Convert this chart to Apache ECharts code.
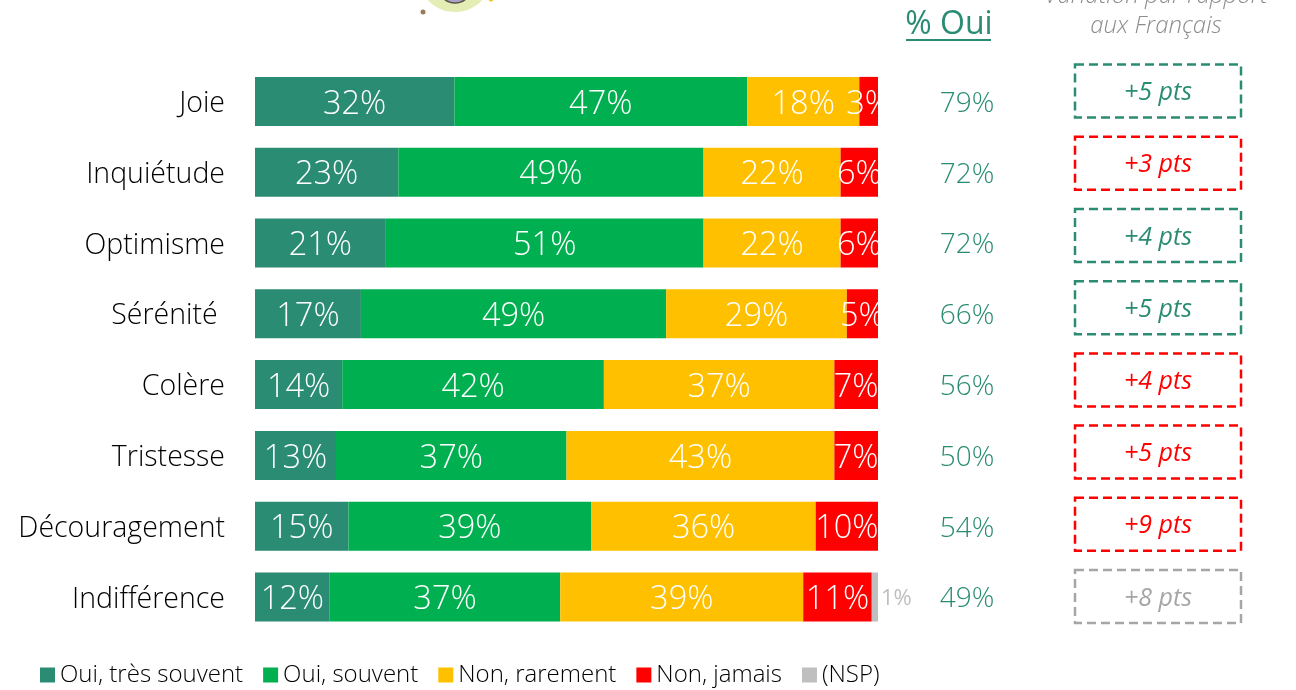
<!DOCTYPE html>
<html><head><meta charset="utf-8">
<style>html,body{margin:0;padding:0;background:#fff}#c{width:1296px;height:690px}</style>
<script src="https://cdn.jsdelivr.net/npm/echarts@6/dist/echarts.min.js"></script>
</head><body><div id="c"></div>
<script>
const categories = ["Joie","Inquiétude","Optimisme","Sérénité ","Colère","Tristesse","Découragement","Indifférence"];
const ouiTresSouvent = [32,23,21,17,14,13,15,12];
const ouiSouvent = [47,49,51,49,42,37,39,37];
const nonRarement = [18,22,22,29,37,43,36,39];
const nonJamais = [3,6,6,5,7,7,10,11];
const nsp = [null,null,null,null,null,null,null,1];
const totalOui = [79,72,72,66,56,50,54,49];
const variation = [5,3,4,5,4,5,9,8];
const varTone = ["green","red","green","green","red","red","red","grey"];

const FONT = '"Open Sans"';
const GREEN = '#2A8C72', TONES = {green:GREEN, red:'#FF0000', grey:'#A6A6A6'};

const pct = p => p.value == null ? '' : p.value + '%';
function stack(name, data, color) {
  return {
    name, type:'bar', stack:'t', data, barWidth:49, xAxisIndex:0, yAxisIndex:0,
    itemStyle:{color},
    label:{show:true, position:'inside', formatter:pct, color:'#fff', fontFamily:FONT, fontWeight:300, fontSize:32.5},
    labelLayout:{hideOverlap:false, dy:3}
  };
}
const series = [
  stack('Oui, très souvent', ouiTresSouvent, GREEN),
  stack('Oui, souvent', ouiSouvent, '#00B050'),
  stack('Non, rarement', nonRarement, '#FFC000'),
  stack('Non, jamais', nonJamais, '#FF0000'),
  Object.assign(stack('(NSP)', nsp, '#BFBFBF'), {
    label:{show:true, position:'right', distance:3, formatter:pct, color:'#BFBFBF', fontFamily:FONT, fontWeight:400, fontSize:22},
    labelLayout:{hideOverlap:false, dy:2}
  }),
  {
    type:'scatter', xAxisIndex:1, yAxisIndex:1, symbolSize:1, silent:true,
    itemStyle:{color:'transparent', opacity:1},
    data: totalOui.map((v,i)=>({value:['% Oui',categories[i]], total:v})),
    label:{show:true, position:'inside', offset:[0,2], formatter:p=>p.data.total+'%', color:GREEN, fontFamily:FONT, fontWeight:300, fontSize:28}
  },
  {
    type:'custom', xAxisIndex:2, yAxisIndex:2, silent:true,
    data: variation.map((v,i)=>[0,i,v]),
    renderItem:(params,api)=>{
      const c = api.coord([api.value(0),api.value(1)]);
      const col = TONES[varTone[params.dataIndex]];
      return {type:'group',children:[
        {type:'rect', shape:{x:c[0]-83,y:c[1]-26.5,width:166,height:53},
         style:{fill:'none',stroke:col,lineWidth:2.5,lineDash:[9,5]}},
        {type:'text', style:{x:c[0],y:c[1]+2,text:'+'+api.value(2)+' pts',align:'center',verticalAlign:'middle',
          fill:col,font:'italic 500 25px "Open Sans"'}}
      ]};
    }
  }
];
const hiddenCat = (gridIndex,data,extra)=>Object.assign({type:'category',gridIndex,data,show:false},extra||{});
const option = {
  animation:false,
  backgroundColor:'#fff',
  grid:[
    {left:255, width:623, top:66, height:566.4},
    {left:867, width:200, top:66.5, height:566.4},
    {left:1058, width:200, top:55, height:577.6}
  ],
  xAxis:[
    {type:'value', gridIndex:0, min:0, max:100, show:false},
    hiddenCat(1,['% Oui']),
    hiddenCat(2,['Variation'])
  ],
  yAxis:[
    {type:'category', gridIndex:0, inverse:true, data:categories,
     axisLine:{show:false}, axisTick:{show:false},
     axisLabel:{margin:30, formatter:'{a|{value}}', color:'#000',
       rich:{a:{padding:[5,0,0,0], color:'#000', fontFamily:FONT, fontWeight:300, fontSize:28.5}}}},
    hiddenCat(1,categories,{inverse:true}),
    hiddenCat(2,categories,{inverse:true})
  ],
  legend:{
    left:35, top:658, icon:'rect', itemWidth:15, itemHeight:15, itemGap:20,
    data:['Oui, très souvent','Oui, souvent','Non, rarement','Non, jamais','(NSP)'],
    textStyle:{fontFamily:FONT, fontWeight:300, fontSize:24, color:'#000'}
  },
  series,
  graphic:[
    {type:'ellipse', silent:true, shape:{cx:455,cy:-25,rx:37,ry:37}, style:{fill:'#E4EDB4'}},
    {type:'ellipse', silent:true, shape:{cx:455,cy:-12,rx:16,ry:15}, style:{fill:'#A9A4C8', stroke:'#5E5548', lineWidth:1.5}},
    {type:'circle', silent:true, shape:{cx:423,cy:12,r:2.5}, style:{fill:'#9A7A5C'}},
    {type:'circle', silent:true, shape:{cx:491,cy:-1,r:2.5}, style:{fill:'#F4C430'}},
    {type:'text', silent:true, style:{x:949,y:25,text:'% Oui',align:'center',verticalAlign:'middle',fill:GREEN,font:'400 32px "Open Sans"'}},
    {type:'line', silent:true, shape:{x1:906,y1:40,x2:991,y2:40}, style:{stroke:GREEN,lineWidth:2}},
    {type:'text', silent:true, style:{x:1156,y:-4,text:'Variation par rapport',align:'center',verticalAlign:'middle',fill:'#8C8C8C',font:'italic 300 24px "Open Sans"'}},
    {type:'text', silent:true, style:{x:1156,y:26,text:'aux Français',align:'center',verticalAlign:'middle',fill:'#8C8C8C',font:'italic 300 24px "Open Sans"'}}
  ]
};
echarts.init(document.getElementById('c'),null,{renderer:'canvas'}).setOption(option);
</script></body></html>
